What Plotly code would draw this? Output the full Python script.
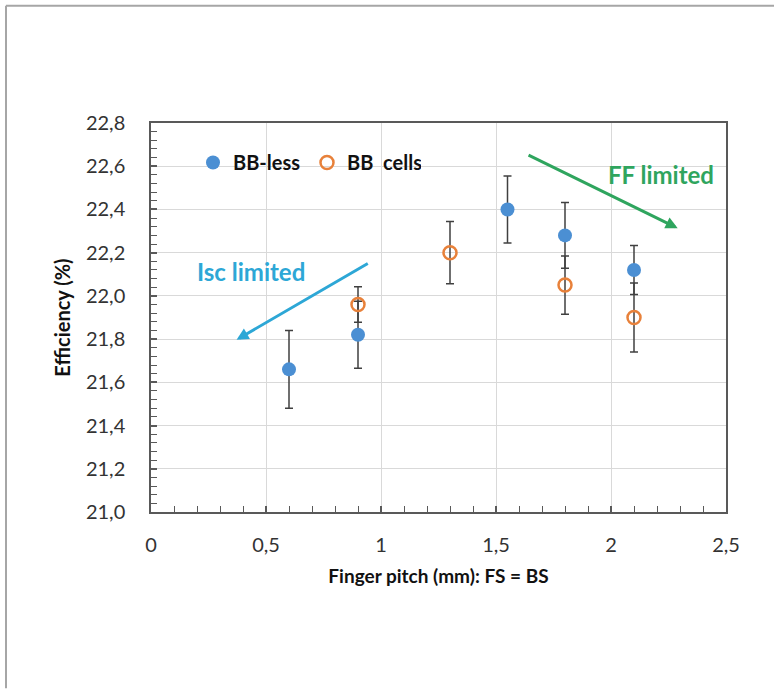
import plotly.graph_objects as go

# Data
bbless_x = [0.6, 0.9, 1.55, 1.8, 2.1]
bbless_y = [21.66, 21.82, 22.40, 22.28, 22.12]
bbless_err = [0.18, 0.155, 0.155, 0.152, 0.113]

bbcells_x = [0.9, 1.3, 1.8, 2.1]
bbcells_y = [21.96, 22.20, 22.05, 21.90]
bbcells_err = [0.082, 0.144, 0.135, 0.16]

x_ticks = [0, 0.5, 1, 1.5, 2, 2.5]
x_text = ["0", "0,5", "1", "1,5", "2", "2,5"]
y_ticks = [21.0, 21.2, 21.4, 21.6, 21.8, 22.0, 22.2, 22.4, 22.6, 22.8]

FONT = "Lato"
BLUE = "#4B8FD3"
ORANGE = "#E8813A"
ERRC = "#404040"

fig = go.Figure()
fig.add_trace(go.Scatter(
    x=bbless_x, y=bbless_y, mode="markers", name="BB-less",
    marker=dict(symbol="circle", size=14, color=BLUE),
    error_y=dict(type="data", array=bbless_err, color=ERRC, thickness=1.5, width=4),
))
fig.add_trace(go.Scatter(
    x=bbcells_x, y=bbcells_y, mode="markers", name="BB  cells",
    marker=dict(symbol="circle-open", size=13, color=ORANGE, line=dict(width=2.5, color=ORANGE)),
    error_y=dict(type="data", array=bbcells_err, color=ERRC, thickness=1.5, width=4),
))

# Arrows + labels
fig.add_annotation(x=2.29, y=22.313, ax=1.635, ay=22.655, xref="x", yref="y", axref="x", ayref="y",
                   text="", showarrow=True, arrowhead=2, arrowsize=0.8, arrowwidth=3, arrowcolor="#2FA55E")
fig.add_annotation(x=2.217, y=22.56, xref="x", yref="y", text="<b>FF limited</b>", showarrow=False,
                   font=dict(family=FONT, size=24, color="#2FA55E"))
fig.add_annotation(x=0.372, y=21.797, ax=0.949, ay=22.154, xref="x", yref="y", axref="x", ayref="y",
                   text="", showarrow=True, arrowhead=2, arrowsize=0.8, arrowwidth=3, arrowcolor="#2DA7D6")
fig.add_annotation(x=0.4335, y=22.113, xref="x", yref="y", text="<b>Isc limited</b>", showarrow=False,
                   font=dict(family=FONT, size=24, color="#2DA7D6"))

# Outer frame (top and left edges)
W, H = 774, 689
L, R, T, B = 151, 48, 123, 176.5
pw, ph = W - L - R, H - T - B
def px(xp): return (xp - L) / pw
def py(yp): return (H - B - yp) / ph
fig.add_shape(type="line", xref="paper", yref="paper", x0=px(6), x1=px(W), y0=py(5.5), y1=py(5.5),
              line=dict(color="#A6A6A6", width=2))
fig.add_shape(type="line", xref="paper", yref="paper", x0=px(6), x1=px(6), y0=py(5.5), y1=py(H),
              line=dict(color="#A6A6A6", width=2))

fig.update_layout(
    width=W, height=H,
    margin=dict(l=L, r=R, t=T, b=B),
    paper_bgcolor="white", plot_bgcolor="white",
    separators=", ",
    font=dict(family=FONT, color="#333333"),
    showlegend=True,
    legend=dict(orientation="h", x=px(193), y=py(143), xanchor="left", yanchor="top",
                bgcolor="rgba(0,0,0,0)", font=dict(family=FONT, size=20, color="#111111", weight="bold"),
                itemwidth=30, entrywidth=69, entrywidthmode="pixels"),
    xaxis=dict(
        range=[0, 2.5], tickvals=x_ticks, ticktext=x_text,
        showgrid=True, gridcolor="#D9D9D9", gridwidth=1,
        showline=True, linecolor="#595959", linewidth=1.5, mirror=True,
        ticks="inside", ticklen=6, tickcolor="#595959", tickwidth=1.5,
        minor=dict(dtick=0.1, ticks="inside", ticklen=6, tickcolor="#595959", tickwidth=1.2, showgrid=False),
        tickfont=dict(family=FONT, size=20, color="#333333"),
        ticklabelstandoff=14,
        zeroline=False,
        title=dict(text="<b>Finger pitch (mm): FS = BS</b>", font=dict(family=FONT, size=19, color="#111111"), standoff=15),
    ),
    yaxis=dict(
        range=[21.0, 22.8], tickvals=y_ticks, tickformat=".1f",
        showgrid=True, gridcolor="#D9D9D9", gridwidth=1,
        showline=True, linecolor="#595959", linewidth=1.5, mirror=True,
        ticks="inside", ticklen=6, tickcolor="#595959", tickwidth=1.5,
        minor=dict(dtick=0.04, tick0=21.0, ticks="inside", ticklen=6, tickcolor="#595959", tickwidth=1.2, showgrid=False),
        tickfont=dict(family=FONT, size=20, color="#333333"),
        ticklabelstandoff=20,
        zeroline=False,
        title=dict(text="<b>Efficiency (%)</b>", font=dict(family=FONT, size=20, color="#111111"), standoff=10),
    ),
)

fig.write_html("out.html")
